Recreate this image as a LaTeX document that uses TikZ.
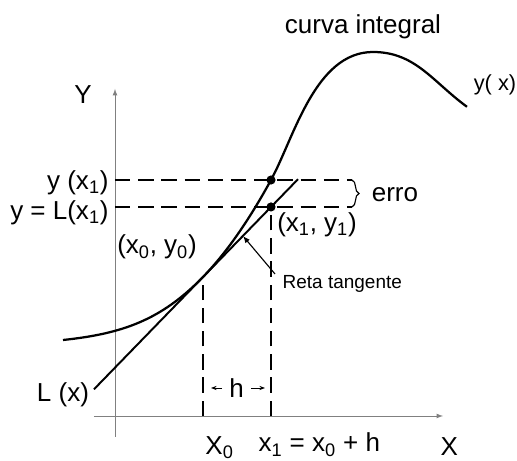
\documentclass[tikz,border=0pt]{standalone}
\usepackage{fontspec}
\setmainfont{Liberation Sans}
\usetikzlibrary{arrows.meta,calc,positioning,decorations.pathreplacing}

\begin{document}
\begin{tikzpicture}[x=1cm, y=1cm,
    lbl/.style={font=\fontsize{18.5}{20}\selectfont, inner sep=1pt},
    lblsmall/.style={font=\fontsize{13.5}{15}\selectfont, inner sep=1pt},
    guide/.style={dash pattern=on 11pt off 5.5pt, line width=0.9pt},
    dot/.style={circle, fill=black, inner sep=0pt, minimum size=6.5pt}]
  \useasboundingbox (-2.875,-1.125) rectangle (10.05,10.4);
  % axes
  \coordinate (O) at (0,0);
  \coordinate (xa) at (-0.525,0);
  \coordinate (xb) at (8.2,0);
  \coordinate (ya) at (0,-0.525);
  \coordinate (yb) at (0,8.175);
  \draw[gray, line width=0.6pt, -latex] (xa) -- (xb);
  \draw[gray, line width=0.6pt, -latex] (ya) -- (yb);
  \node[lbl] (Ylab) at (-0.8,8.025) {Y};
  \node[lbl, anchor=base west] (Xlab) at (8.1,-1.0) {X};
  % points on the curve and on the tangent
  \coordinate (P0) at (2.2,3.475);
  \coordinate (P1) at (3.9,5.9);
  \coordinate (Q1) at (3.9,5.226);
  \coordinate (Ca) at (-1.3,1.9);
  \coordinate (Cm) at (6.45,9.1);
  \coordinate (Cb) at (8.8,7.73);
  \coordinate (La) at (-0.525,0.668);
  \coordinate (Lb) at (4.575,5.92);
  % integral curve
  \draw[line width=1.6pt] (Ca) to[out=6, in=225.8] (P0)
    .. controls (2.767,4.059) and (3.333,4.863) .. (P1)
    .. controls (4.475,6.95) and (5.0,9.1) .. (Cm) to[out=0, in=144] (Cb);
  % tangent line
  \draw[line width=1.4pt] (La) -- (Lb);
  % dashed guides
  \coordinate (E1) at (5.925,5.9);
  \coordinate (E2) at (5.925,5.226);
  \draw[guide] (P1 -| O) -- (E1);
  \draw[guide] (Q1 -| O) -- (E2);
  \draw[guide] (P0 |- O) -- (P0);
  \draw[guide] (Q1 |- O) -- (Q1);
  \draw[line width=0.8pt, decorate, decoration={brace, amplitude=5pt}] (E1) -- (E2);
  \node[dot] (d1) at (P1) {};
  \node[dot] (d2) at (Q1) {};
  % labels
  \node[lbl] (curva) at (6.2,9.725) {curva integral};
  \node[lblsmall, font=\fontsize{15.5}{17}\selectfont] (yx) at (9.5,8.275) {y( x)};
  \node[lbl, anchor=east] (yx1) at (-0.12,5.83) {y (x\textsubscript{1})};
  \node[lbl, anchor=east] (Lx1) at (-0.12,5.08) {y = L(x\textsubscript{1})};
  \node[lbl] (erro) at (7.0,5.525) {erro};
  \node[lbl] (p0) at (1.05,4.225) {(x\textsubscript{0}, y\textsubscript{0})};
  \node[lbl] (p1) at (5.05,4.775) {(x\textsubscript{1}, y\textsubscript{1})};
  \node[lbl] (Lx) at (-1.3,0.525) {L (x)};
  \node[lblsmall, anchor=west] (reta) at (4.15,3.3) {Reta tangente};
  \coordinate (ra) at (4.0,3.55);
  \coordinate (rb) at (3.2,4.5);
  \draw[line width=0.8pt, -{Latex[length=5pt, width=4pt]}] (ra) -- (rb);
  % step h
  \node[lbl, inner sep=5pt] (h) at (3.04,0.7) {h};
  \draw[line width=0.6pt, -{Stealth[length=4pt, width=3pt]}] (h.west) -- ($(P0 |- h)+(0.2,0)$);
  \draw[line width=0.6pt, -{Stealth[length=4pt, width=3pt]}] (h.east) -- ($(Q1 |- h)-(0.15,0)$);
  \node[lbl, anchor=base west] (x0) at (2.22,-0.96) {X\textsubscript{0}};
  \node[lbl, anchor=base west] (x1) at (3.55,-0.9) {x\textsubscript{1} = x\textsubscript{0} + h};
\end{tikzpicture}
\end{document}
